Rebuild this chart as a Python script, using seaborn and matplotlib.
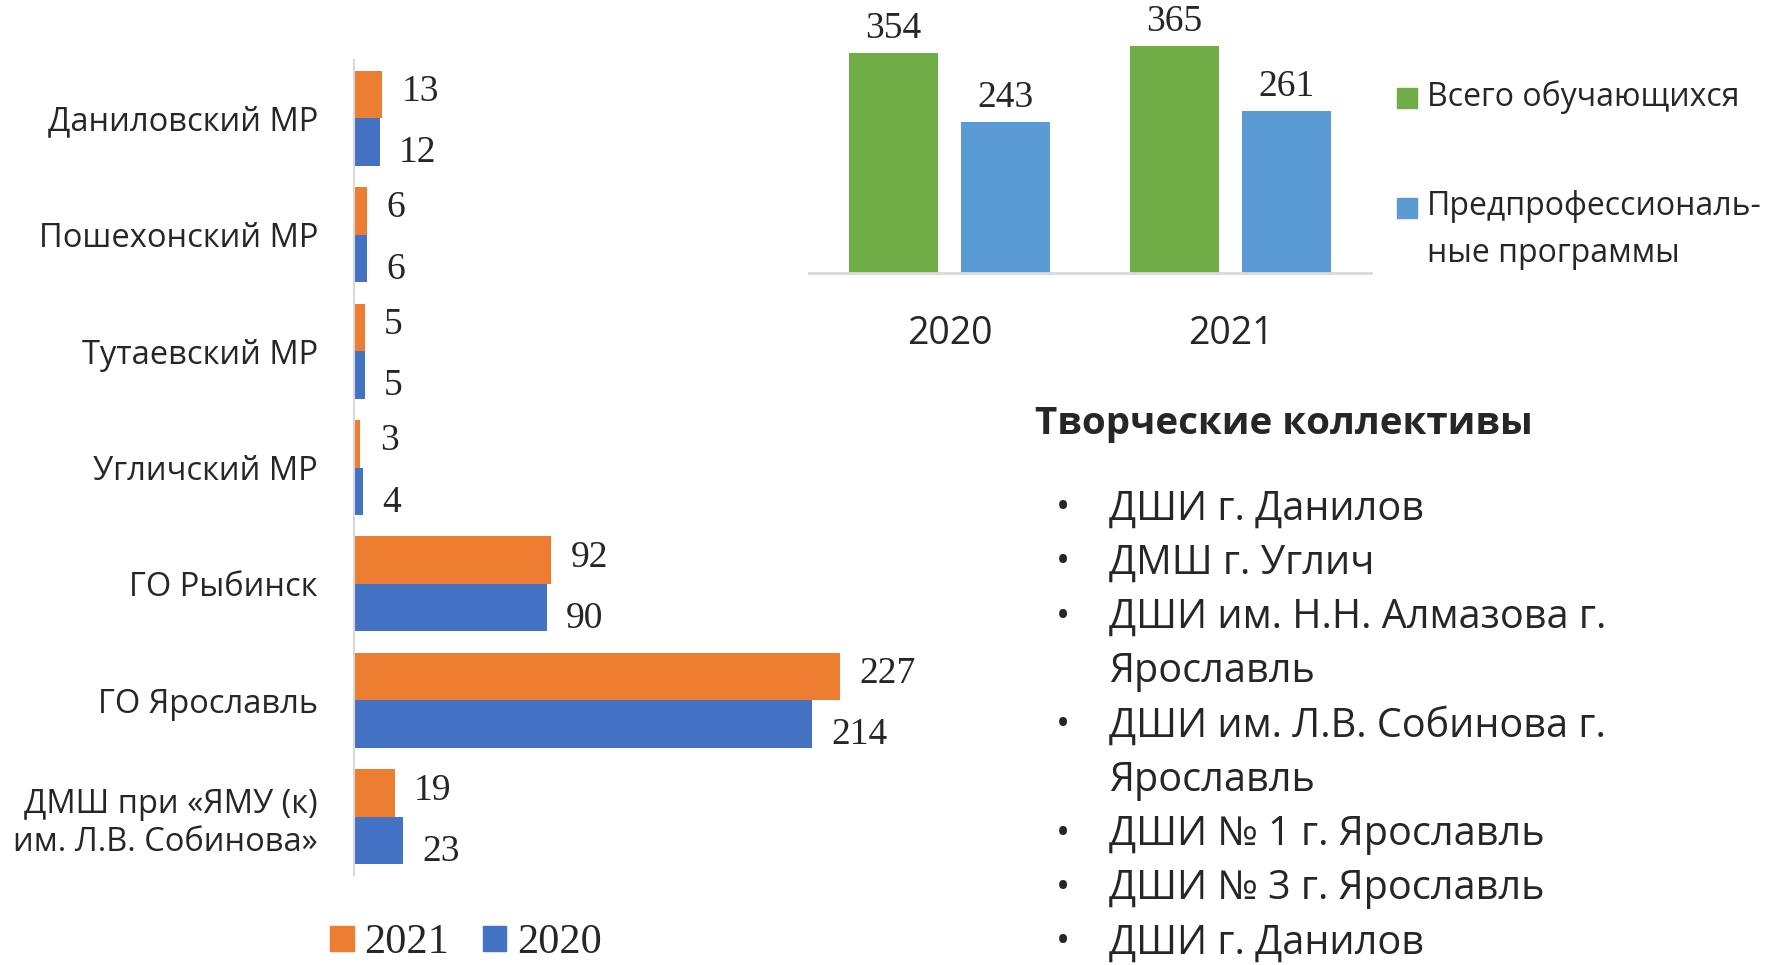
import matplotlib
matplotlib.use('Agg')
import matplotlib.pyplot as plt
import pandas as pd
import seaborn as sns
from matplotlib.patches import Patch, Rectangle

# left chart: bars by district
districts = ['Даниловский МР', 'Пошехонский МР', 'Тутаевский МР', 'Угличский МР',
             'ГО Рыбинск', 'ГО Ярославль', 'ДМШ при «ЯМУ (к)\nим. Л.В. Собинова»']
vals_2021 = [13, 6, 5, 3, 92, 227, 19]
vals_2020 = [12, 6, 5, 4, 90, 214, 23]

# top right chart
years = ['2020', '2021']
total_students = [354, 365]
preprof_students = [243, 261]
series_names = ['Всего обучающихся', 'Предпрофессиональ-\nные программы']

# text block
block_title = 'Творческие коллективы'
collectives = ['ДШИ г. Данилов', 'ДМШ г. Углич', 'ДШИ им. Н.Н. Алмазова г.\nЯрославль',
               'ДШИ им. Л.В. Собинова г.\nЯрославль', 'ДШИ № 1 г. Ярославль',
               'ДШИ № 3 г. Ярославль', 'ДШИ г. Данилов']

ORANGE, BLUE = '#ED7D31', '#4472C4'
GREEN, LBLUE = '#70AD47', '#5B9BD5'
GRID = '#D9D9D9'
SERIF = 'Liberation Serif'

sns.set_theme(style='white')
plt.rcParams['font.family'] = ['Open Sans', 'DejaVu Sans']

W, H = 1769, 965
fig = plt.figure(figsize=(W / 100, H / 100), dpi=100)

# ---- horizontal bars
ax1 = fig.add_axes([354 / W, 1 - 875 / H, 546 / W, 815 / H])
df1 = pd.DataFrame({'district': districts * 2,
                    'year': ['2021'] * len(districts) + ['2020'] * len(districts),
                    'value': vals_2021 + vals_2020})
sns.barplot(data=df1, y='district', x='value', hue='year', hue_order=['2021', '2020'],
            palette=[ORANGE, BLUE], orient='h', width=0.815, saturation=1,
            linewidth=0, legend=False, ax=ax1)
# labels sit a bit outward from the bar pair, like in the original
for c, dy in zip(ax1.containers, [2, -8]):
    for ann in ax1.bar_label(c, padding=14, fontsize=27, family=SERIF):
        ann.xyann = (ann.xyann[0], dy)
ax1.set_xlim(0, 255)
ax1.set_ylim(6.5, -0.5)
ax1.set_xticks([])
ax1.set_xlabel('')
ax1.set_ylabel('')
ax1.tick_params(axis='y', length=0, pad=26, labelsize=23.5)
for s in ['top', 'right', 'bottom']:
    ax1.spines[s].set_visible(False)
ax1.spines['left'].set_color(GRID)
ax1.spines['left'].set_linewidth(1.5)

fig.legend(handles=[Patch(color=ORANGE, label='2021'), Patch(color=BLUE, label='2020')],
           loc='center', bbox_to_anchor=(466 / W, 1 - 943 / H), ncol=2, frameon=False,
           prop={'family': SERIF, 'size': 30.5}, handlelength=0.55, handleheight=0.55,
           handletextpad=0.25, columnspacing=0.8, borderpad=0.1)

# ---- vertical bars
ax2 = fig.add_axes([809 / W, 1 - 273 / H, 562 / W, 248.6 / H])
df2 = pd.DataFrame({'year': years * 2,
                    'series': [series_names[0]] * 2 + [series_names[1]] * 2,
                    'value': total_students + preprof_students})
sns.barplot(data=df2, x='year', y='value', hue='series', palette=[GREEN, LBLUE],
            width=0.8, gap=0.21, saturation=1, linewidth=0, legend=False, ax=ax2)
for c in ax2.containers:
    ax2.bar_label(c, padding=5, fontsize=27, family=SERIF)
ax2.set_ylim(0, 400)
ax2.set_xlim(-0.5, 1.5)
ax2.set_yticks([])
ax2.set_xlabel('')
ax2.set_ylabel('')
ax2.tick_params(axis='x', length=0, pad=30, labelsize=27)
for s in ['top', 'right', 'left']:
    ax2.spines[s].set_visible(False)
ax2.spines['bottom'].set_color(GRID)
ax2.spines['bottom'].set_linewidth(2)

# legend of the vertical bars, square next to the first line of each label
for name, col, yc in zip(series_names, [GREEN, LBLUE], [98, 208]):
    fig.patches.append(Rectangle((1397 / W, 1 - (yc + 10) / H), 20 / W, 20 / H,
                                 color=col, transform=fig.transFigure, figure=fig))
    fig.text(1427 / W, 1 - (yc - 18) / H, name, fontsize=23, va='top', linespacing=1.55)

# ---- text block
fig.text(1035 / W, 1 - 424 / H, block_title, fontsize=27.7, fontweight='bold', va='center')
y = 509
for item in collectives:
    lines = item.split('\n')
    fig.text(1063 / W, 1 - y / H, '•', fontsize=27, va='center', ha='center')
    for ln in lines:
        fig.text(1109 / W, 1 - y / H, ln, fontsize=28.5, va='center')
        y += 54.3

fig.savefig('out.png', dpi=100)
